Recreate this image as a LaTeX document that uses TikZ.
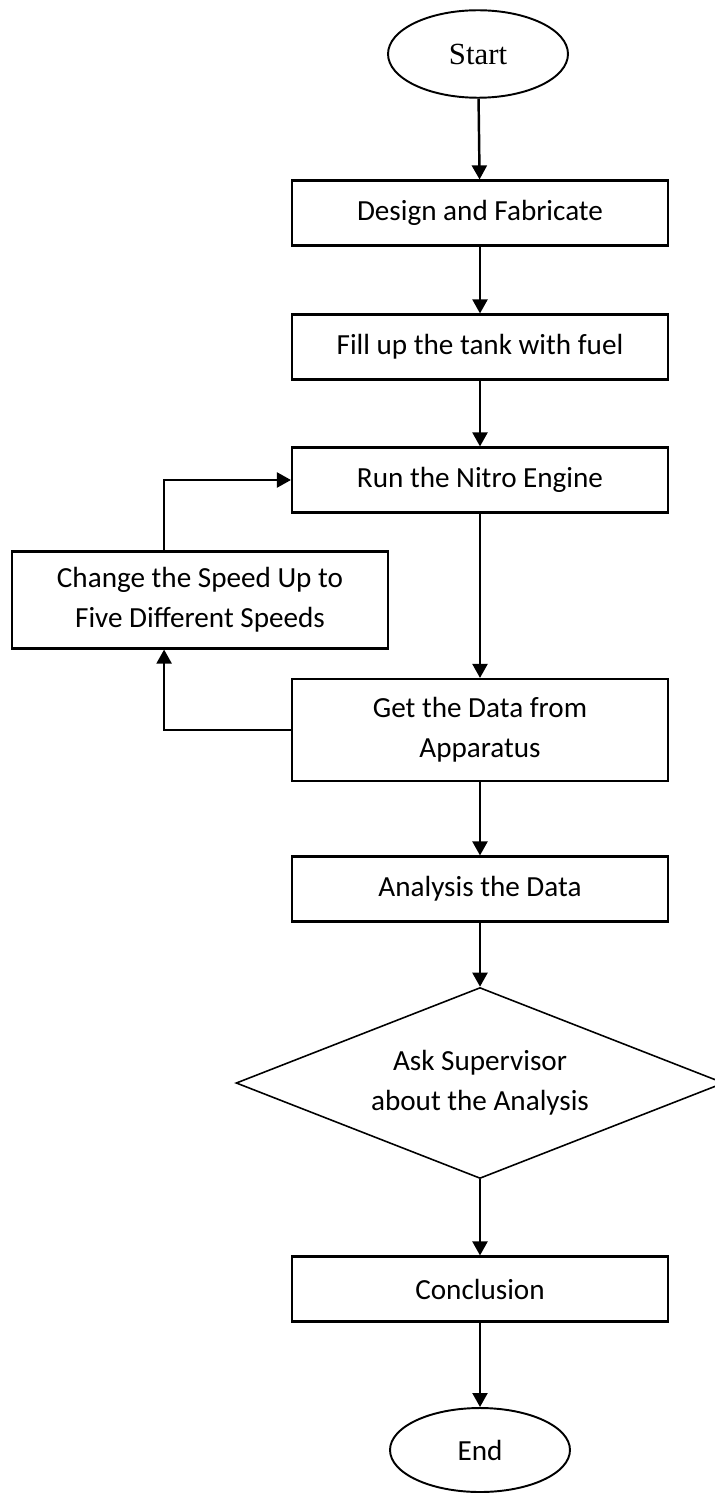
\documentclass[tikz,border=0pt]{standalone}
\usepackage{fontspec}
\setmainfont{Carlito}
\newfontfamily\timesfont{Liberation Serif}
\usepackage{tikz}
\usetikzlibrary{shapes, arrows.meta, positioning, calc}

\begin{document}
\begin{tikzpicture}[
  x=0.02cm, y=-0.02cm,
  process/.style={draw, line width=1.2pt, rectangle, minimum width=7.52cm, minimum height=1.3cm, align=center, font=\fontsize{16.6}{22.8}\selectfont},
  terminal/.style={draw, line width=1.1pt, ellipse, minimum width=3.6cm, minimum height=1.75cm, inner sep=0pt},
  decision/.style={draw, line width=0.9pt, diamond, shape aspect=2.555, minimum width=9.76cm, minimum height=3.82cm, inner sep=0pt, align=center, font=\fontsize{16.6}{22.8}\selectfont},
  arrow/.style={line width=1.4pt, -{Triangle[length=8pt, width=8.5pt]}}
]
  \useasboundingbox (0,0) rectangle (714,1493);

  % Start and end
  \node[terminal, font=\timesfont\fontsize{17.5}{21}\selectfont] (start) at (478,54) {Start};
  \node[terminal, minimum height=1.68cm, font=\fontsize{16.6}{22.8}\selectfont] (end) at (480,1450) {End};

  % Steps
  \node[process] (design) at (480,213) {Design and Fabricate};
  \node[process] (fill) at (480,347) {Fill up the tank with fuel};
  \node[process] (run) at (480,480) {Run the Nitro Engine};
  \node[process, minimum height=1.94cm] (change) at (200,600) {Change the Speed Up to\\Five Different Speeds};
  \node[process, minimum height=2.04cm] (get) at (480,730) {Get the Data from\\Apparatus};
  \node[process] (analysis) at (480,889) {Analysis the Data};
  \node[decision] (ask) at (480,1083) {Ask Supervisor\\about the Analysis};
  \node[process] (conclusion) at (480,1289) {Conclusion};

  % Main flow
  \draw[arrow] (start) -- (design);
  \draw[arrow] (design) -- (fill);
  \draw[arrow] (fill) -- (run);
  \draw[arrow] (run) -- (get);
  \draw[arrow] (get) -- (analysis);
  \draw[arrow] (analysis) -- (ask);
  \draw[arrow] (ask) -- (conclusion);
  \draw[arrow] (conclusion) -- (end);

  % Speed loop
  \draw[arrow] (get.west) -| ($(change.south west)!0.405!(change.south east)$);
  \draw[arrow] ($(change.north west)!0.405!(change.north east)$) |- (run.west);

\end{tikzpicture}
\end{document}
